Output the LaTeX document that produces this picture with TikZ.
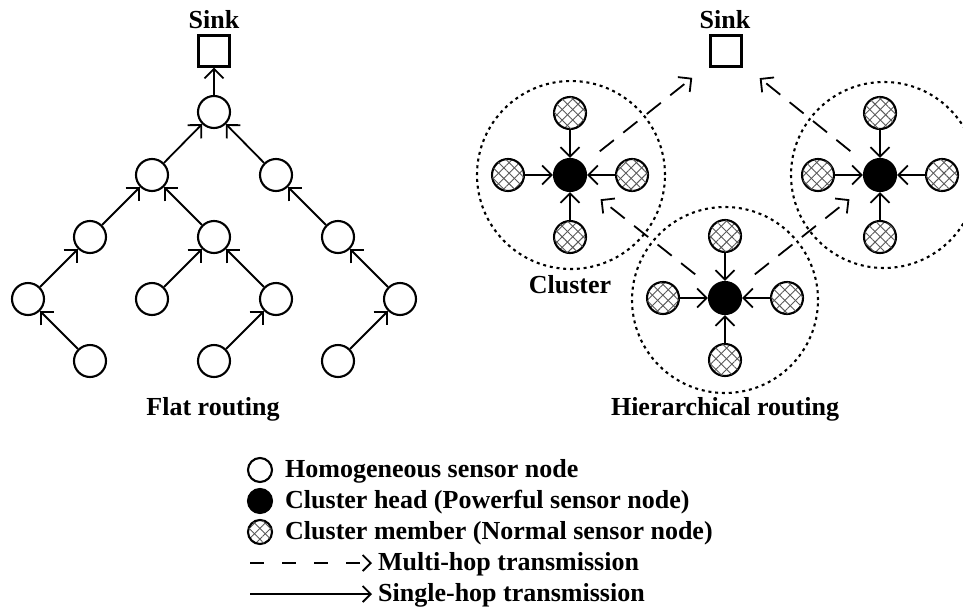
\documentclass[tikz,border=0pt]{standalone}
\usepackage{fontspec}
\setmainfont{Liberation Serif}
\usetikzlibrary{arrows.meta,patterns.meta}
\tikzset{
  hnode/.style={circle, draw, line width=2.1pt, minimum size=32pt, inner sep=0pt, fill=white},
  sinkbox/.style={rectangle, draw, line width=2.1pt, minimum size=31pt, inner sep=0pt, fill=white},
  headnode/.style={circle, draw, fill=black, line width=2.1pt, minimum size=32pt, inner sep=0pt},
  hatchfill/.style={pattern={Lines[angle=45,distance=7.5pt,line width=0.9pt]}, pattern color=black!65,
     postaction={pattern={Lines[angle=-45,distance=7.5pt,line width=0.9pt]}, pattern color=black!65}},
  member/.style={circle, draw, line width=2.1pt, minimum size=32pt, inner sep=0pt, hatchfill},
  ring/.style={circle, draw, line width=2.1pt, dash pattern=on 3pt off 3.8pt, minimum size=#1, inner sep=0pt},
  arr/.style={line width=1.8pt, -{Straight Barb[length=9.5pt,width=19pt]}},
  darr/.style={arr, dash pattern=on 18pt off 12pt, shorten <=21pt, shorten >=22pt},
  ttl/.style={font=\fontsize{26}{30}\selectfont\bfseries, inner sep=0pt, anchor=base},
  leg/.style={font=\fontsize{26}{30}\selectfont\bfseries, inner sep=0pt, anchor=base west},
}
\begin{document}
\begin{tikzpicture}[x=1pt,y=-1pt]
\clip (0,0) rectangle (963,608);

% ---------- Flat routing ----------
\node[ttl] (sinkLt) at (214,28) {Sink};
\node[sinkbox] (sinkL) at (214,51) {};
\node[hnode] (r) at (214,112) {};
\node[hnode] (a) at (152,175) {};
\node[hnode] (b) at (276,175) {};
\node[hnode] (c) at (90,237) {};
\node[hnode] (d) at (214,237) {};
\node[hnode] (e) at (338,237) {};
\node[hnode] (f) at (28,299) {};
\node[hnode] (g) at (152,299) {};
\node[hnode] (h) at (276,299) {};
\node[hnode] (i) at (400,299) {};
\node[hnode] (j) at (90,361) {};
\node[hnode] (k) at (214,361) {};
\node[hnode] (l) at (338,361) {};
\foreach \s/\t in {r/sinkL,a/r,b/r,c/a,d/a,e/b,f/c,g/d,h/d,i/e,j/f,k/h,l/i}
  \draw[arr] (\s) -- (\t);
\node[ttl] (flatt) at (213,415) {Flat routing};

% ---------- Hierarchical routing ----------
\node[ring=188pt] (ring1) at (571,175) {};
\node[ring=186pt] (ring2) at (884,175) {};
\node[ring=186pt] (ring3) at (725,300) {};

\node[ttl] (sinkRt) at (725,28) {Sink};
\node[sinkbox] (sinkR) at (726,51) {};

\node[headnode] (h1) at (570,175) {};
\node[member] (t1) at (570,113) {};
\node[member] (b1) at (570,237) {};
\node[member] (l1) at (508,175) {};
\node[member] (r1) at (632,175) {};

\node[headnode] (h2) at (880,175) {};
\node[member] (t2) at (880,113) {};
\node[member] (b2) at (880,237) {};
\node[member] (l2) at (818,175) {};
\node[member] (r2) at (942,175) {};

\node[headnode] (h3) at (725,298) {};
\node[member] (t3) at (725,236) {};
\node[member] (b3) at (725,360) {};
\node[member] (l3) at (663,298) {};
\node[member] (r3) at (787,298) {};

\foreach \n in {1,2,3}{
  \draw[arr] (t\n) -- (h\n);
  \draw[arr] (b\n) -- (h\n);
  \draw[arr] (l\n) -- (h\n);
  \draw[arr] (r\n) -- (h\n);
}
\draw[darr] (h1) -- (sinkR);
\draw[darr] (h2) -- (sinkR);
\draw[darr] (h3) -- (h1);
\draw[darr] (h3) -- (h2);

\node[ttl] (clt) at (570,293) {Cluster};
\node[ttl] (hiert) at (725,415) {Hierarchical routing};

% ---------- Legend ----------
\node[circle, draw, line width=2.1pt, minimum size=24pt, inner sep=0pt] (lg1) at (260,470) {};
\node[circle, draw, fill=black, line width=2.1pt, minimum size=24pt, inner sep=0pt] (lg2) at (260,501) {};
\node[circle, draw, line width=2.1pt, minimum size=24pt, inner sep=0pt, hatchfill] (lg3) at (260,532) {};
\coordinate (d0) at (250,563);
\coordinate (d1) at (372,563);
\coordinate (s0) at (250,594);
\coordinate (s1) at (372,594);
\draw[line width=1.8pt, dash pattern=on 14pt off 18pt, -{Straight Barb[length=8pt,width=16pt]}] (d0) -- (d1);
\draw[line width=1.8pt, -{Straight Barb[length=8pt,width=16pt]}] (s0) -- (s1);
\node[leg] (lt1) at (285,477) {Homogeneous sensor node};
\node[leg] (lt2) at (285,508) {Cluster head (Powerful sensor node)};
\node[leg] (lt3) at (285,539) {Cluster member (Normal sensor node)};
\node[leg] (lt4) at (378,570) {Multi-hop transmission};
\node[leg] (lt5) at (378,601) {Single-hop transmission};
\end{tikzpicture}
\end{document}
